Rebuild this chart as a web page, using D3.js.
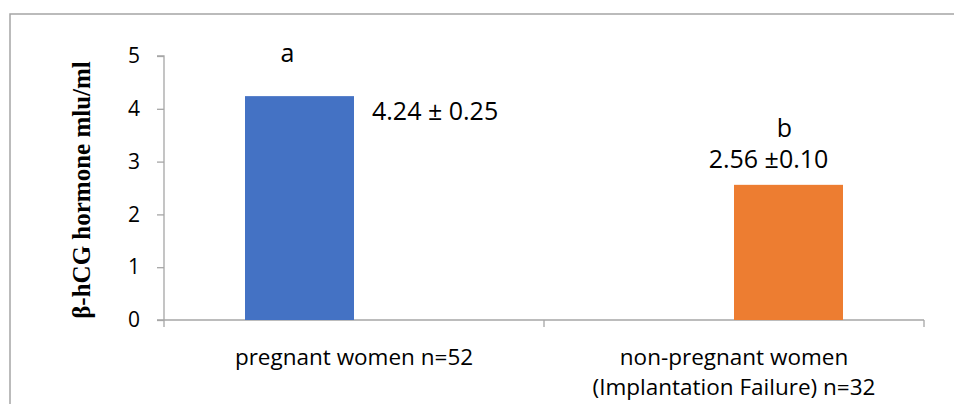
<!DOCTYPE html>
<meta charset="utf-8">
<style>
  body { margin: 0; background: #fff; }
  text { font-family: 'Open Sans', 'Liberation Sans', sans-serif; fill: #000; }
</style>
<svg width="954" height="404"></svg>
<script src="https://cdn.jsdelivr.net/npm/d3@7/dist/d3.min.js"></script>
<script>
var categories = ["pregnant women n=52", "non-pregnant women\n(Implantation Failure) n=32"];
var values = [4.24, 2.56];
var valueLabels = ["4.24 \u00b1 0.25", "2.56 \u00b10.10"];
var letters = ["a", "b"];
var colors = ["#4472c4", "#ed7d31"];
var yTicks = [0, 1, 2, 3, 4, 5];

var svg = d3.select("svg");

// chart frame (runs off the right and bottom of the picture)
svg.append("rect")
    .attr("x", 10).attr("y", 14)
    .attr("width", 1000).attr("height", 500)
    .attr("fill", "none")
    .attr("stroke", "#a5a5a5")
    .attr("stroke-width", 1.5);

var x0 = d3.scaleBand()
    .domain(categories)
    .range([164, 924]);

// each bar is its own series, so they sit left / right of the category centre
var x1 = d3.scaleBand()
    .domain(d3.range(categories.length))
    .range([x0.bandwidth() / 2 - 109, x0.bandwidth() / 2 + 109]);

var y = d3.scaleLinear()
    .domain([0, 5])
    .range([320, 56]);

// y axis
var yAxis = svg.append("g")
    .attr("transform", "translate(164,0)")
    .call(d3.axisLeft(y).tickValues(yTicks).tickSize(7).tickPadding(17).tickFormat(d3.format("d")));
yAxis.select(".domain").attr("stroke", "#a6a6a6").attr("stroke-width", 1.3).attr("d", "M-7," + y(5) + "H0V" + y(0));
yAxis.selectAll(".tick line").attr("stroke", "#a6a6a6").attr("stroke-width", 1.3);
yAxis.selectAll(".tick text")
    .style("font-family", "'Open Sans', sans-serif")
    .style("font-size", "21px")
    .attr("fill", "#000");

// x axis: ticks between categories
var xAxis = svg.append("g");
xAxis.append("line")
    .attr("x1", x0.range()[0] - 7).attr("x2", x0.range()[1])
    .attr("y1", y(0)).attr("y2", y(0))
    .attr("stroke", "#a6a6a6").attr("stroke-width", 1.3);
xAxis.selectAll(".xt")
    .data([x0.range()[0]].concat(categories.map(function(c) { return x0(c) + x0.bandwidth(); })))
  .enter().append("line")
    .attr("x1", function(d) { return d; }).attr("x2", function(d) { return d; })
    .attr("y1", y(0)).attr("y2", y(0) + 7)
    .attr("stroke", "#a6a6a6").attr("stroke-width", 1.3);

xAxis.selectAll(".cat")
    .data(categories)
  .enter().append("text")
    .attr("text-anchor", "middle")
    .style("font-size", "22.5px")
    .attr("transform", function(d) { return "translate(" + (x0(d) + x0.bandwidth() / 2) + ",365)"; })
    .each(function(d) {
      var t = d3.select(this);
      d.split("\n").forEach(function(line, i) {
        t.append("tspan").attr("x", 0).attr("y", i * 30).text(line);
      });
    });

// bars
svg.selectAll(".bar")
    .data(values)
  .enter().append("rect")
    .attr("x", function(d, i) { return x0(categories[i]) + x1(i); })
    .attr("y", function(d) { return y(d); })
    .attr("width", x1.bandwidth())
    .attr("height", function(d) { return y(0) - y(d); })
    .attr("fill", function(d, i) { return colors[i]; });

// value labels (placed by hand like the original)
var labelPos = [
  {dx: x1.bandwidth() + 18, anchor: "start", dy: 24},
  {dx: x1.bandwidth() / 2 - 20, anchor: "middle", dy: -17}
];
svg.selectAll(".val")
    .data(values)
  .enter().append("text")
    .attr("x", function(d, i) { return x0(categories[i]) + x1(i) + labelPos[i].dx; })
    .attr("y", function(d, i) { return y(d) + labelPos[i].dy; })
    .attr("text-anchor", function(d, i) { return labelPos[i].anchor; })
    .style("font-size", "25px")
    .text(function(d, i) { return valueLabels[i]; });

var letterPos = [{dx: -12, dy: -34}, {dx: -4, dy: -48}];
svg.selectAll(".let")
    .data(values)
  .enter().append("text")
    .attr("x", function(d, i) { return x0(categories[i]) + x1(i) + x1.bandwidth() / 2 + letterPos[i].dx; })
    .attr("y", function(d, i) { return y(d) + letterPos[i].dy; })
    .attr("text-anchor", "middle")
    .style("font-size", "25px")
    .text(function(d, i) { return letters[i]; });

// y title
svg.append("text")
    .attr("transform", "translate(90,190) rotate(-90)")
    .attr("text-anchor", "middle")
    .style("font-family", "'Liberation Serif', 'DejaVu Serif', serif")
    .style("font-weight", "bold")
    .style("font-size", "25px")
    .text("\u03b2-hCG hormone mlu/ml");
</script>
